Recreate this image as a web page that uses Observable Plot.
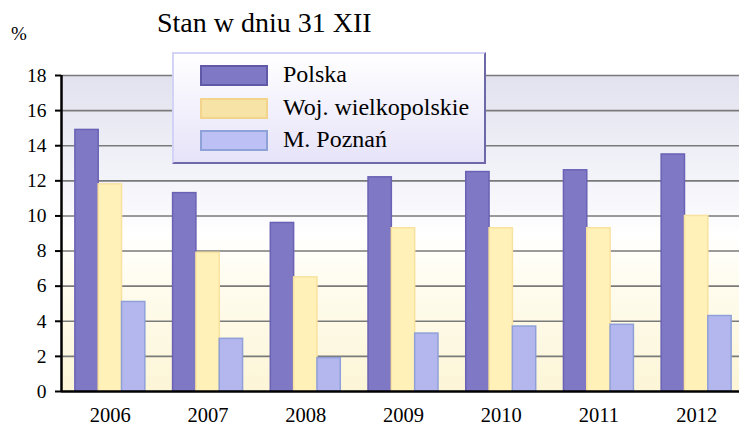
<!DOCTYPE html>
<html>
<head>
<meta charset="utf-8">
<script src="https://cdn.jsdelivr.net/npm/d3@7"></script>
<script src="https://cdn.jsdelivr.net/npm/@observablehq/plot@0.6"></script>
<style>
  html, body { margin: 0; padding: 0; background: #ffffff; }
  #wrap { position: relative; width: 739px; height: 428px; overflow: hidden; font-family: "Liberation Serif", serif; color: #000; }
  #wrap svg { position: absolute; left: 0; top: 0; }
  #wrap svg g[aria-label="y-axis tick label"] { font-size: 19.5px; font-family: "Liberation Serif", serif; }
  #wrap svg g[aria-label="x-axis tick label"] { font-size: 20.5px; font-family: "Liberation Serif", serif; }
  .abs { position: absolute; white-space: nowrap; line-height: 1; }
  #legend { position: absolute; left: 172px; top: 52px; width: 314px; height: 112px; box-sizing: border-box;
    border: 2px solid; border-color: #d3d3f7 #6d69a9 #6d69a9 #d3d3f7;
    background: linear-gradient(#ffffff, #e6e3f9); }
  .sw { position: absolute; box-sizing: border-box; border: 2px solid; width: 68px; height: 21px; }
</style>
</head>
<body>
<div id="wrap">
  <div class="abs" style="left:157px; top:9px; font-size:28px;">Stan w dniu 31 XII</div>
  <div class="abs" style="left:11px; top:24px; font-size:19px;">%</div>
</div>
<script>
const years = ["2006", "2007", "2008", "2009", "2010", "2011", "2012"];
const seriesNames = ["Polska", "Woj. wielkopolskie", "M. Poznań"];
const polska = [14.9, 11.3, 9.6, 12.2, 12.5, 12.6, 13.5];
const wielkopolskie = [11.8, 7.9, 6.5, 9.3, 9.3, 9.3, 10.0];
const poznan = [5.1, 3.0, 1.9, 3.3, 3.7, 3.8, 4.3];
const yTicks = [0, 2, 4, 6, 8, 10, 12, 14, 16, 18];

const seriesValues = [polska, wielkopolskie, poznan];
const barFill = ["#7f78c4", "#fff1b8", "#b4b7ee"];
const barStroke = ["#6a62b4", "#f9e29f", "#8fa0d9"];
const swFill = ["#7f78c4", "#f8e3a6", "#bcc0f4"];
const swStroke = ["#5f59a8", "#f3d48c", "#8ea2d8"];

const groupW = 0.716; // fraction of category step used by a group of bars

const barMarks = seriesValues.map((vals, s) =>
  Plot.rectY(years.map((yr, i) => ({i, v: vals[i]})), {
    x1: d => d.i - groupW / 2 + s * groupW / 3,
    x2: d => d.i - groupW / 2 + (s + 1) * groupW / 3,
    y1: 0,
    y2: "v",
    fill: barFill[s],
    stroke: barStroke[s],
    strokeWidth: 1.5
  })
);

const chart = Plot.plot({
  width: 739,
  height: 428,
  marginTop: 75,
  marginBottom: 37,
  marginLeft: 61,
  marginRight: 0,
  style: {fontFamily: "Liberation Serif, serif", fontSize: "18px", background: "transparent", color: "#000", overflow: "visible"},
  x: {domain: [-0.5, years.length - 0.5], range: [61, 745]},
  y: {domain: [0, 18], range: [391, 75]},
  marks: [
    Plot.frame({fill: "url(#bgGrad)", stroke: "none"}),
    Plot.gridY({ticks: yTicks.filter(t => t > 0), stroke: "#7a7a7a", strokeOpacity: 1, strokeWidth: 1.6}),
    ...barMarks,
    Plot.ruleX([-0.5], {stroke: "#000", strokeWidth: 2.5}),
    Plot.ruleY([0], {stroke: "#000", strokeWidth: 2.5}),
    Plot.axisY({ticks: yTicks, tickSize: 6, tickPadding: 9, label: null, strokeWidth: 2}),
    Plot.axisX({ticks: d3.range(years.length), tickFormat: i => years[i], tickSize: 0, tickPadding: 16, label: null})
  ]
});

d3.select(chart).insert("defs", ":first-child").html(
  `<linearGradient id="bgGrad" x1="0" y1="0" x2="0" y2="1">
     <stop offset="0" stop-color="#e2e2ef"/>
     <stop offset="0.4" stop-color="#f7f7fc"/>
     <stop offset="0.5" stop-color="#ffffff"/>
     <stop offset="0.62" stop-color="#fffdf2"/>
     <stop offset="1" stop-color="#fcf5d6"/>
   </linearGradient>`
);

const wrap = document.getElementById("wrap");
wrap.insertBefore(chart, wrap.firstChild);

// legend
const legend = document.createElement("div");
legend.id = "legend";
seriesNames.forEach((name, s) => {
  const sw = document.createElement("div");
  sw.className = "sw";
  sw.style.left = "26px";
  sw.style.top = (11 + s * 32.5) + "px";
  sw.style.background = swFill[s];
  sw.style.borderColor = swStroke[s];
  legend.appendChild(sw);
  const t = document.createElement("div");
  t.className = "abs";
  t.style.left = "109px";
  t.style.top = (8 + s * 32.5) + "px";
  t.style.fontSize = "24px";
  t.textContent = name;
  legend.appendChild(t);
});
wrap.appendChild(legend);
</script>
</body>
</html>
